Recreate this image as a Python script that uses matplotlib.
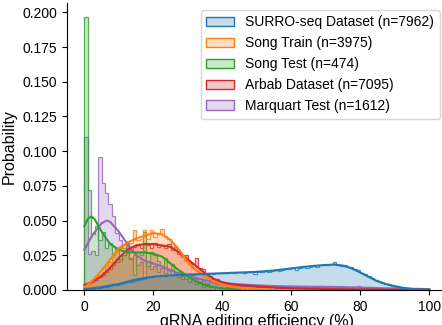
import matplotlib
matplotlib.use("Agg")
import matplotlib.pyplot as plt
from matplotlib.colors import to_rgba
from matplotlib.patches import Patch
import numpy as np

plt.rcParams['font.family'] = ['Liberation Sans', 'DejaVu Sans']

labels = ["SURRO-seq Dataset (n=7962)", "Song Train (n=3975)", "Song Test (n=474)",
          "Arbab Dataset (n=7095)", "Marquart Test (n=1612)"]
colors = ["#1f77b4", "#ff7f0e", "#2ca02c", "#d62728", "#9467bd"]

# probability per 1%-wide bin, starting at 0
surro_hist = [0.0004, 0.0006, 0.001, 0.0013, 0.0016, 0.002, 0.0024, 0.0028, 0.0033, 0.0038,
              0.0043, 0.0048, 0.0055, 0.006, 0.0066, 0.0072, 0.0078, 0.0085, 0.009, 0.0094,
              0.0098, 0.0101, 0.0104, 0.0099, 0.0107, 0.0109, 0.0104, 0.0112, 0.0108, 0.0111,
              0.0114, 0.0106, 0.0116, 0.0118, 0.0112, 0.0117, 0.0121, 0.0115, 0.0119, 0.0122,
              0.0125, 0.0123, 0.0128, 0.0122, 0.0126, 0.0129, 0.0124, 0.0131, 0.0127, 0.0112,
              0.0133, 0.0130, 0.0136, 0.0131, 0.0138, 0.0141, 0.0136, 0.0143, 0.0148, 0.0151,
              0.0158, 0.0146, 0.0160, 0.0163, 0.0155, 0.0168, 0.0172, 0.0166, 0.0180, 0.0183,
              0.0176, 0.0185, 0.0201, 0.0180, 0.0175, 0.0181, 0.0165, 0.0162, 0.0150, 0.0142,
              0.0125, 0.0112, 0.0098, 0.0088, 0.0072, 0.0063, 0.0050, 0.0043, 0.0035, 0.0028,
              0.0022, 0.0016, 0.0012, 0.0009, 0.0006, 0.0004, 0.0003, 0.0002, 0.0001, 0.0001]
song_train_hist = [0.002, 0.004, 0.006, 0.008, 0.011, 0.013, 0.017, 0.020, 0.024, 0.027,
                   0.030, 0.032, 0.035, 0.034, 0.043, 0.036, 0.037, 0.043, 0.037, 0.043,
                   0.038, 0.040, 0.044, 0.039, 0.037, 0.034, 0.031, 0.027, 0.024, 0.021,
                   0.018, 0.016, 0.014, 0.012, 0.010, 0.009, 0.007, 0.006, 0.005, 0.004,
                   0.0035, 0.003, 0.0025, 0.002, 0.0015, 0.0012, 0.001, 0.0008, 0.0006, 0.0005,
                   0.0005, 0.0003, 0.0003, 0.0002, 0.0002]
song_test_hist = [0.197, 0.072, 0.040, 0.046, 0.036, 0.042, 0.030, 0.034, 0.025, 0.030,
                  0.021, 0.025, 0.034, 0.023, 0.011, 0.027, 0.025, 0.042, 0.017, 0.027,
                  0.025, 0.021, 0.017, 0.023, 0.015, 0.019, 0.011, 0.013, 0.008, 0.011,
                  0.006, 0.008, 0.004, 0.006, 0.002, 0.004, 0.002, 0.002, 0.0, 0.002,
                  0.0, 0.002, 0.0, 0.0, 0.002]
arbab_hist = [0.004, 0.005, 0.006, 0.007, 0.009, 0.011, 0.013, 0.015, 0.018, 0.020,
              0.022, 0.025, 0.028, 0.029, 0.031, 0.033, 0.030, 0.034, 0.032, 0.030,
              0.034, 0.031, 0.032, 0.030, 0.033, 0.029, 0.031, 0.026, 0.024, 0.025,
              0.021, 0.019, 0.023, 0.016, 0.015, 0.012, 0.010, 0.008, 0.0075, 0.006,
              0.0055, 0.0045, 0.0045, 0.004, 0.0038, 0.0035, 0.0032, 0.003, 0.0028, 0.0026,
              0.0024, 0.0022, 0.0021, 0.002, 0.0019, 0.0017, 0.0016, 0.0015, 0.0014, 0.0013,
              0.0012, 0.0012, 0.0011, 0.0011, 0.001, 0.001, 0.0009, 0.0009, 0.0008, 0.0008,
              0.0007, 0.0007, 0.0006, 0.0006, 0.0006, 0.0005, 0.0005, 0.0005, 0.0005, 0.0004,
              0.0004, 0.0004, 0.0004, 0.0003, 0.0003, 0.0003, 0.0003, 0.0003, 0.0003, 0.0002,
              0.0002, 0.0002, 0.0002, 0.0002, 0.0001, 0.0001, 0.0001, 0.0001, 0.0001, 0.0001]
marquart_hist = [0.110, 0.026, 0.028, 0.025, 0.096, 0.077, 0.070, 0.062, 0.053, 0.041,
                 0.036, 0.030, 0.032, 0.022, 0.025, 0.018, 0.020, 0.008, 0.020, 0.015,
                 0.017, 0.013, 0.016, 0.012, 0.014, 0.011, 0.012, 0.009, 0.010, 0.008,
                 0.009, 0.007, 0.008, 0.006, 0.007, 0.005, 0.006, 0.005, 0.0045, 0.004,
                 0.004, 0.0035, 0.004, 0.003, 0.0035, 0.003, 0.003, 0.0035, 0.003, 0.0025,
                 0.0025, 0.003, 0.0025, 0.002, 0.0025, 0.003, 0.002, 0.0025, 0.002, 0.0025,
                 0.002, 0.0025, 0.002, 0.003, 0.002, 0.0025, 0.002, 0.002, 0.0025, 0.002,
                 0.002, 0.0025, 0.0015, 0.002, 0.002, 0.0015, 0.002, 0.0015, 0.002, 0.003,
                 0.0015, 0.0015, 0.002, 0.001, 0.0015, 0.001, 0.0015, 0.001, 0.001, 0.0012,
                 0.001, 0.0008, 0.001, 0.0006, 0.0008, 0.0006, 0.0006, 0.0006, 0.0006, 0.0006]

# kde curves
surro_kde_x = [0, 5, 10, 15, 20, 25, 30, 35, 40, 45, 50, 55, 60, 65, 70, 72.5, 75, 77.5, 80,
               82.5, 85, 87.5, 90, 92.5, 95, 97.5, 100]
surro_kde_y = [0.0005, 0.002, 0.0043, 0.0075, 0.0095, 0.0105, 0.011, 0.0115, 0.012, 0.0125,
               0.013, 0.014, 0.0155, 0.017, 0.018, 0.0182, 0.0175, 0.0155, 0.0125, 0.0093,
               0.0062, 0.0042, 0.0027, 0.0015, 0.0007, 0.0003, 0.0001]
song_train_kde_x = [0, 2.5, 5, 7.5, 10, 12.5, 15, 17.5, 20, 22.5, 25, 27.5, 30, 32.5, 35,
                    37.5, 40, 42.5, 45, 47.5, 50, 52.5, 55]
song_train_kde_y = [0.002, 0.007, 0.014, 0.022, 0.030, 0.034, 0.037, 0.039, 0.041, 0.040,
                    0.036, 0.029, 0.020, 0.014, 0.010, 0.006, 0.004, 0.0025, 0.0015, 0.0009,
                    0.0005, 0.0003, 0.0002]
song_test_kde_x = [0, 1, 2, 3, 5, 7.5, 10, 12.5, 15, 17.5, 20, 22.5, 25, 27.5, 30, 32.5,
                   35, 37.5, 40, 42.5, 45]
song_test_kde_y = [0.046, 0.051, 0.053, 0.051, 0.042, 0.033, 0.029, 0.027, 0.027, 0.027,
                   0.026, 0.024, 0.019, 0.014, 0.010, 0.006, 0.0035, 0.002, 0.001, 0.0005,
                   0.0002]
arbab_kde_x = [0, 2.5, 5, 7.5, 10, 12.5, 15, 17.5, 20, 22.5, 25, 27.5, 30, 32.5, 35, 37.5,
               40, 42.5, 45, 50, 55, 60, 65, 70, 75, 80, 85, 90, 95, 100]
arbab_kde_y = [0.0035, 0.006, 0.010, 0.016, 0.023, 0.029, 0.032, 0.033, 0.033, 0.032,
               0.031, 0.027, 0.022, 0.017, 0.012, 0.008, 0.0055, 0.0042, 0.0035, 0.0025,
               0.0017, 0.0012, 0.0009, 0.0007, 0.0005, 0.0004, 0.0003, 0.0002, 0.0001, 0.0001]
marquart_kde_x = [0, 2.5, 5, 6.5, 7.5, 10, 12.5, 15, 17.5, 20, 22.5, 25, 27.5, 30, 32.5,
                  35, 37.5, 40, 45, 50, 55, 60, 65, 70, 75, 80, 85, 90, 95, 100]
marquart_kde_y = [0.029, 0.040, 0.048, 0.050, 0.049, 0.042, 0.033, 0.025, 0.021, 0.019,
                  0.017, 0.014, 0.012, 0.010, 0.0085, 0.007, 0.006, 0.005, 0.004, 0.0033,
                  0.0028, 0.0025, 0.0023, 0.0022, 0.002, 0.0017, 0.0013, 0.001, 0.0008, 0.0006]

hists = [surro_hist, song_train_hist, song_test_hist, arbab_hist, marquart_hist]
kdes = [(surro_kde_x, surro_kde_y), (song_train_kde_x, song_train_kde_y),
        (song_test_kde_x, song_test_kde_y), (arbab_kde_x, arbab_kde_y),
        (marquart_kde_x, marquart_kde_y)]

fig = plt.figure(figsize=(4.42, 3.25), dpi=100)
ax = fig.add_axes([0.1517, 0.108, 0.8586, 0.883])

# seaborn layers the first hue level on top, so draw in reverse
for i in reversed(range(len(labels))):
    vals = np.array(hists[i])
    edges = np.arange(len(vals) + 1)
    ax.stairs(vals, edges, fill=True, facecolor=to_rgba(colors[i], 0.25),
              edgecolor=to_rgba(colors[i], 0.8), linewidth=0.9)
for i in reversed(range(len(labels))):
    ax.plot(kdes[i][0], kdes[i][1], color=colors[i], linewidth=1.5)

ax.set_xlim(-5, 105)
ax.set_ylim(0, 0.2068)
ax.set_yticks(np.arange(0, 0.201, 0.025))
ax.set_xticks([0, 20, 40, 60, 80, 100])
ax.tick_params(labelsize=10)
ax.spines['top'].set_visible(False)
ax.spines['right'].set_visible(False)
ax.set_xlabel("gRNA editing efficiency (%)", fontsize=11.5, labelpad=0)
ax.set_ylabel("Probability", fontsize=11.5)

handles = [Patch(facecolor=to_rgba(c, 0.25), edgecolor=c, linewidth=1) for c in colors]
ax.legend(handles, labels, loc="upper right", fontsize=10)

fig.savefig("out.png", dpi=100)
